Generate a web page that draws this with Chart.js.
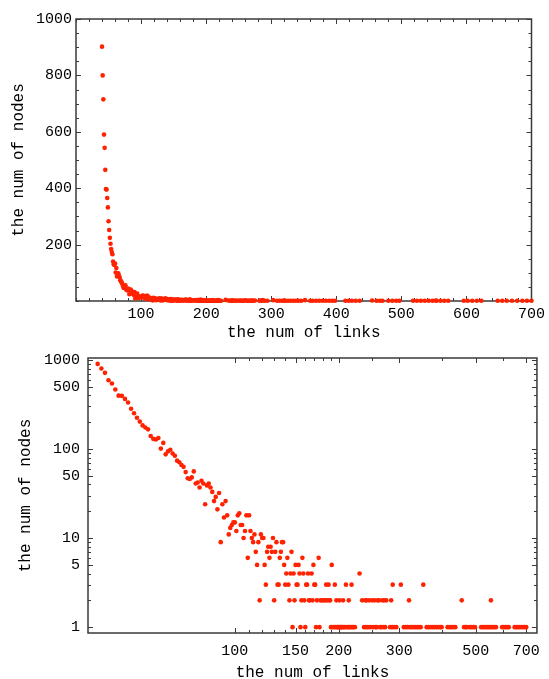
<!DOCTYPE html>
<html>
<head>
<meta charset="utf-8">
<script src="https://cdn.jsdelivr.net/npm/chart.js@4.4.0/dist/chart.umd.min.js"></script>
<style>
  html, body { margin: 0; padding: 0; background: #fff; }
  #wrap { position: relative; width: 549px; height: 679px; }
  canvas { position: absolute; left: 0; }
</style>
</head>
<body>
<div id="wrap">
  <canvas id="linChart" width="549" height="340" style="top:0"></canvas>
  <canvas id="logChart" width="549" height="339" style="top:340px"></canvas>
</div>
<script>
// degree distribution: number of nodes having a given number of links
const headLinks = [40,41,42,43,44,45,46,47,48,49,50,51,52,53,54,55,56,57,58,59,
                   60,61,62,63,64,65,66,67,68,69,70,71,72,73,74,75,76,77,78,79,
                   80,81,82,83,84,85,86,87,88,89,90,91,92,93,94,95];
const headNodes = [902,800,715,590,543,465,397,395,365,332,283,252,224,203,184,174,166,140,130,128,
                   133,101,117,87,94,98,89,84,74,71,66,63,55,47,46,48,56,41,42,37,
                   44,41,24,39,41,37,33,26,29,21,32,9,24,17,26,18];

const midLinks = [96,97,98,99,100,101,102,103,104,105,
                  106,107,108,109,110,111,112,113,114,115,
                  116,117,118,119,120,121,122,123,124,125,
                  126,127,128,129,130,131,132,133,134,135,
                  136,137,138,139,140,141,142,143,144,145,
                  146,147,148,149,150,151,152,153,154,155,
                  156,157,158,159,160,161,162,163,164,165,
                  167,168,169,170,171,172,173,175,176,177,
                  179,181,183,184,185,187,188,189,190,191,
                  192,194,195,196,197,198,199,200];
const midNodes = [11,13,14,15,15,12,18,19,14,14,
                  10,12,18,6,18,12,10,9,11,7,
                  5,9,2,11,10,10,5,3,7,8,
                  6,8,7,10,2,7,9,3,3,6,
                  7,9,9,5,3,4,6,3,2,4,
                  7,1,4,2,5,3,3,5,4,1,
                  2,6,4,2,1,3,3,4,2,2,
                  4,2,5,3,3,1,2,6,1,2,
                  2,2,2,3,2,3,2,2,1,5,
                  1,1,3,1,2,1,1,1];

const tailLinks = [201,202,203,204,205,206,207,208,210,211,
                   213,214,215,217,218,219,221,223,230,234,
                   237,239,240,241,243,245,247,250,252,254,
                   256,258,259,262,264,266,268,270,271,273,
                   275,282,284,286,287,290,294,303,309,313,
                   317,320,322,326,330,334,338,342,346,352,
                   360,364,369,374,379,384,389,394,398,414,
                   419,424,430,436,455,462,467,471,480,486,
                   492,497,518,524,530,536,542,548,553,554,
                   560,566,572,596,602,609,616,623,648,655,
                   662,670,678,686,693,700];
const tailNodes = [2,1,1,1,1,2,1,1,3,1,
                   1,2,1,1,3,1,1,1,4,2,
                   1,2,1,2,1,2,1,2,1,2,
                   1,1,2,2,1,1,2,1,2,1,
                   2,1,2,1,3,1,1,3,1,1,
                   1,2,1,1,1,1,1,1,1,3,
                   1,1,1,1,1,1,1,1,1,1,
                   1,1,1,1,2,1,1,1,1,1,
                   1,1,1,1,1,1,1,1,2,1,
                   1,1,1,1,1,1,1,1,1,1,
                   1,1,1,1,1,1];

// tick labels
const linLabelsX = [100,200,300,400,500,600,700];
const linLabelsY = [200,400,600,800,1000];
const logLabelsX = [100,150,200,300,500,700];
const logMinorX = [110,120,130,140,160,170,180,190,250,400,600];
const logLabelsY = [1,5,10,50,100,500,1000];
const logMinorY = [2,3,4,6,7,8,9,20,30,40,60,70,80,90,200,300,400,600,700,800,900];

const dotColor = '#ff2200';
const mono = "'Liberation Mono', 'Courier New', monospace";
Chart.defaults.font.family = mono;
Chart.defaults.color = '#000';

function toPoints(xs, ys) {
  return xs.map((x, i) => ({ x: x, y: ys[i] }));
}
const points = [].concat(
  toPoints(headLinks, headNodes),
  toPoints(midLinks, midNodes),
  toPoints(tailLinks, tailNodes)
);

// box frame with inward ticks on all four sides
const frameTicks = {
  id: 'frameTicks',
  beforeDatasetsDraw(chart) {
    const { ctx, chartArea: a, scales } = chart;
    const sx = scales.x, sy = scales.y;
    ctx.save();
    ctx.strokeStyle = '#3a3a3a';
    ctx.lineWidth = 1.5;
    ctx.strokeRect(a.left, a.top, a.right - a.left, a.bottom - a.top);
    ctx.lineWidth = 1;
    ctx.beginPath();
    sx.ticks.forEach(t => {
      const px = Math.round(sx.getPixelForValue(t.value)) + 0.5;
      const len = t.label !== '' ? 5 : 3;
      ctx.moveTo(px, a.bottom); ctx.lineTo(px, a.bottom - len);
      ctx.moveTo(px, a.top); ctx.lineTo(px, a.top + len);
    });
    sy.ticks.forEach(t => {
      const py = Math.round(sy.getPixelForValue(t.value)) + 0.5;
      const len = t.label !== '' ? 5 : 3;
      ctx.moveTo(a.left, py); ctx.lineTo(a.left + len, py);
      ctx.moveTo(a.right, py); ctx.lineTo(a.right - len, py);
    });
    ctx.stroke();
    ctx.restore();
  }
};

function dataset() {
  return {
    data: points,
    backgroundColor: dotColor,
    borderColor: dotColor,
    pointRadius: 2.3,
    pointHoverRadius: 2.3,
    pointBorderWidth: 0,
    clip: false
  };
}

function baseOptions(padRight, padTop) {
  return {
    responsive: false,
    animation: false,
    events: [],
    layout: { padding: { left: 0, right: padRight, top: padTop, bottom: 0 } },
    plugins: { legend: { display: false }, tooltip: { enabled: false } }
  };
}

const tickFont = { family: mono, size: 15 };
const titleFont = { family: mono, size: 16, lineHeight: 1 };

// linear plot
const linOpts = baseOptions(13, 19);
linOpts.scales = {
  x: {
    type: 'linear', min: 0, max: 700,
    grid: { display: false, drawTicks: false },
    border: { display: false },
    ticks: {
      stepSize: 20, maxTicksLimit: 100, autoSkip: false, maxRotation: 0, minRotation: 0,
      padding: 4, font: tickFont, color: '#000',
      callback: v => linLabelsX.includes(v) ? String(v) : ''
    },
    title: { display: true, text: 'the num of links', font: titleFont, color: '#000', padding: { top: 0, bottom: -1 } },
    afterFit(s) { s.height = 39; }
  },
  y: {
    type: 'linear', min: 0, max: 1000,
    grid: { display: false, drawTicks: false },
    border: { display: false },
    ticks: {
      stepSize: 50, maxTicksLimit: 100, autoSkip: false,
      padding: 4, font: tickFont, color: '#000',
      callback: v => linLabelsY.includes(v) ? String(v) : ''
    },
    title: { display: true, text: 'the num of nodes', font: titleFont, color: '#000', padding: { top: 11, bottom: 0 } },
    afterFit(s) { s.width = 76; }
  }
};

new Chart(document.getElementById('linChart'), {
  type: 'scatter',
  data: { datasets: [dataset()] },
  options: linOpts,
  plugins: [frameTicks]
});

// log-log plot
const logOpts = baseOptions(12, 18);
logOpts.scales = {
  x: {
    type: 'logarithmic', min: 37.5, max: 752,
    grid: { display: false, drawTicks: false },
    border: { display: false },
    ticks: {
      autoSkip: false, maxRotation: 0, minRotation: 0,
      padding: 9, font: tickFont, color: '#000',
      callback: v => logLabelsX.includes(v) ? String(v) : ''
    },
    afterBuildTicks(s) {
      s.ticks = logLabelsX.concat(logMinorX).sort((a, b) => a - b).map(v => ({ value: v }));
    },
    title: { display: true, text: 'the num of links', font: titleFont, color: '#000', padding: { top: 0, bottom: -2 } },
    afterFit(s) { s.height = 46; }
  },
  y: {
    type: 'logarithmic', min: 0.86, max: 1050,
    grid: { display: false, drawTicks: false },
    border: { display: false },
    ticks: {
      autoSkip: false,
      padding: 8, font: tickFont, color: '#000',
      callback: v => logLabelsY.includes(v) ? String(v) : ''
    },
    afterBuildTicks(s) {
      s.ticks = logLabelsY.concat(logMinorY).sort((a, b) => a - b).map(v => ({ value: v }));
    },
    title: { display: true, text: 'the num of nodes', font: titleFont, color: '#000', padding: { top: 18, bottom: 0 } },
    afterFit(s) { s.width = 88; }
  }
};

new Chart(document.getElementById('logChart'), {
  type: 'scatter',
  data: { datasets: [dataset()] },
  options: logOpts,
  plugins: [frameTicks]
});
</script>
</body>
</html>
